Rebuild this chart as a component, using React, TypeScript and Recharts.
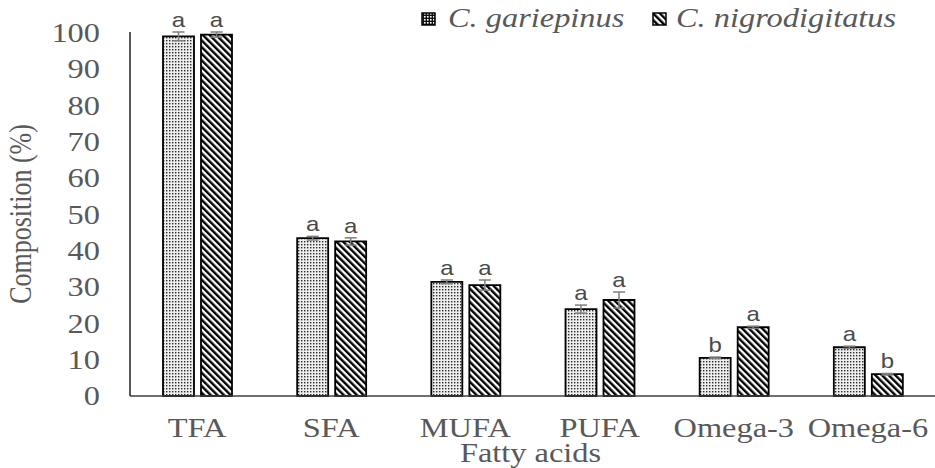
import React from 'react';
import { BarChart, Bar, XAxis, YAxis, ErrorBar, LabelList } from 'recharts';

const categories = ['TFA', 'SFA', 'MUFA', 'PUFA', 'Omega-3', 'Omega-6'];
const gariepinus = [98.9, 43.4, 31.4, 23.9, 10.5, 13.4];
const nigrodigitatus = [99.4, 42.5, 30.5, 26.4, 18.9, 6.0];
const gariepinusErr = [1.2, 0.5, 0.5, 1.1, 0.2, 0.3];
const nigrodigitatusErr = [0.7, 1.0, 1.4, 2.2, 0.3, 0.2];
const gariepinusLetters = ['a', 'a', 'a', 'a', 'b', 'a'];
const nigrodigitatusLetters = ['a', 'a', 'a', 'a', 'a', 'b'];
const yTicks = [0, 10, 20, 30, 40, 50, 60, 70, 80, 90, 100];

const data = categories.map((name, i) => ({
  name,
  gar: gariepinus[i],
  nig: nigrodigitatus[i],
  garErr: gariepinusErr[i],
  nigErr: nigrodigitatusErr[i],
}));

const SERIF = '"Liberation Serif", "Times New Roman", serif';
const GREY = '#595959';
const STRETCH = 1.2;

const YTick = ({ x, y, payload }: any) => (
  <text
    transform={`translate(${x},${y}) scale(${STRETCH},1)`}
    textAnchor="end"
    dy="0.35em"
    fontFamily={SERIF}
    fontSize={27}
    fill={GREY}
  >
    {payload.value}
  </text>
);

const XTick = ({ x, y, payload }: any) => (
  <text
    transform={`translate(${x},${y}) scale(${STRETCH},1)`}
    textAnchor="middle"
    fontFamily={SERIF}
    fontSize={27}
    fill={GREY}
  >
    {payload.value}
  </text>
);

const XTitle = ({ viewBox }: any) => (
  <text
    transform={`translate(${viewBox.x + viewBox.width / 2 - 2},${viewBox.y + 66}) scale(${STRETCH},1)`}
    textAnchor="middle"
    fontFamily={SERIF}
    fontSize={27}
    fill={GREY}
  >
    Fatty acids
  </text>
);

const YTitle = ({ viewBox }: any) => (
  <text
    transform={`translate(31,${viewBox.y + viewBox.height / 2}) scale(${STRETCH},1) rotate(-90)`}
    textAnchor="middle"
    fontFamily={SERIF}
    fontSize={26}
    fill={GREY}
  >
    Composition (%)
  </text>
);

// letter above the error bar; pixel size of the error comes from the bar's own scale
const letterLabel = (letters: string[], errs: number[], values: number[]) => (props: any) => {
  const { x, y, width, height, index } = props;
  const ppu = height / values[index];
  const top = y - errs[index] * ppu - 5;
  return (
    <text
      transform={`translate(${x + width / 2},${top}) scale(${STRETCH},1)`}
      textAnchor="middle"
      fontFamily='"Liberation Sans", Arial, sans-serif'
      fontSize={20}
      fill="#4a4a4a"
    >
      {letters[index]}
    </text>
  );
};

const Patterns = () => (
  <svg width={0} height={0} style={{ position: 'absolute' }}>
    <defs>
      <pattern id="dots" width={3} height={3} patternUnits="userSpaceOnUse">
        <rect width={3} height={3} fill="#eeeeee" />
        <rect x={1} y={1} width={1.4} height={1.4} fill="#2a2a2a" />
      </pattern>
      <pattern id="dotsIcon" width={3} height={3} patternUnits="userSpaceOnUse">
        <rect width={3} height={3} fill="#111" />
        <rect x={1} y={1} width={1.6} height={1.6} fill="#fff" />
      </pattern>
      <pattern
        id="stripes"
        width={4.7}
        height={4.7}
        patternUnits="userSpaceOnUse"
        patternTransform="rotate(-45)"
      >
        <rect width={4.7} height={4.7} fill="#fff" />
        <rect width={2.4} height={4.7} fill="#000" />
      </pattern>
    </defs>
  </svg>
);

const LegendOverlay = () => (
  <svg width={935} height={34} style={{ position: 'absolute', left: 0, top: 0 }}>
    <rect x={422} y={13} width={13} height={12} fill="url(#dotsIcon)" stroke="#000" strokeWidth={1.5} />
    <text
      transform={`translate(448,26.5) scale(${STRETCH},1)`}
      fontFamily={SERIF}
      fontStyle="italic"
      fontSize={27}
      fill={GREY}
    >
      C. gariepinus
    </text>
    <rect x={653} y={13} width={13} height={12} fill="url(#stripes)" stroke="#000" strokeWidth={1.5} />
    <text
      transform={`translate(676,26.5) scale(${STRETCH},1)`}
      fontFamily={SERIF}
      fontStyle="italic"
      fontSize={27}
      fill={GREY}
    >
      C. nigrodigitatus
    </text>
  </svg>
);

export default function App() {
  return (
    <div style={{ position: 'absolute', left: 0, top: 0, width: 935, height: 468, background: '#fff' }}>
      <Patterns />
      <BarChart
        width={935}
        height={468}
        data={data}
        margin={{ top: 32, right: 0, bottom: 12, left: 0 }}
        barSize={31}
        barGap={7}
      >
        <XAxis
          dataKey="name"
          height={60}
          interval={0}
          tickLine={false}
          tickSize={0}
          tickMargin={41}
          tick={<XTick />}
          axisLine={{ stroke: '#404040', strokeWidth: 1.5 }}
          label={{ value: 'Fatty acids', content: XTitle }}
        />
        <YAxis
          width={130}
          domain={[0, 100]}
          ticks={yTicks}
          interval={0}
          tickLine={false}
          tickSize={0}
          tickMargin={30}
          tick={<YTick />}
          axisLine={{ stroke: '#202020', strokeWidth: 1.5 }}
          label={{ value: 'Composition (%)', content: YTitle }}
        />
        <Bar dataKey="gar" name="C. gariepinus" fill="url(#dots)" stroke="#000" strokeWidth={1.8} isAnimationActive={false}>
          <ErrorBar dataKey="garErr" width={6} stroke="#7f7f7f" strokeWidth={1.5} direction="y" />
          <LabelList dataKey="gar" content={letterLabel(gariepinusLetters, gariepinusErr, gariepinus)} />
        </Bar>
        <Bar dataKey="nig" name="C. nigrodigitatus" fill="url(#stripes)" stroke="#000" strokeWidth={1.8} isAnimationActive={false}>
          <ErrorBar dataKey="nigErr" width={6} stroke="#7f7f7f" strokeWidth={1.5} direction="y" />
          <LabelList dataKey="nig" content={letterLabel(nigrodigitatusLetters, nigrodigitatusErr, nigrodigitatus)} />
        </Bar>
      </BarChart>
      <LegendOverlay />
    </div>
  );
}
